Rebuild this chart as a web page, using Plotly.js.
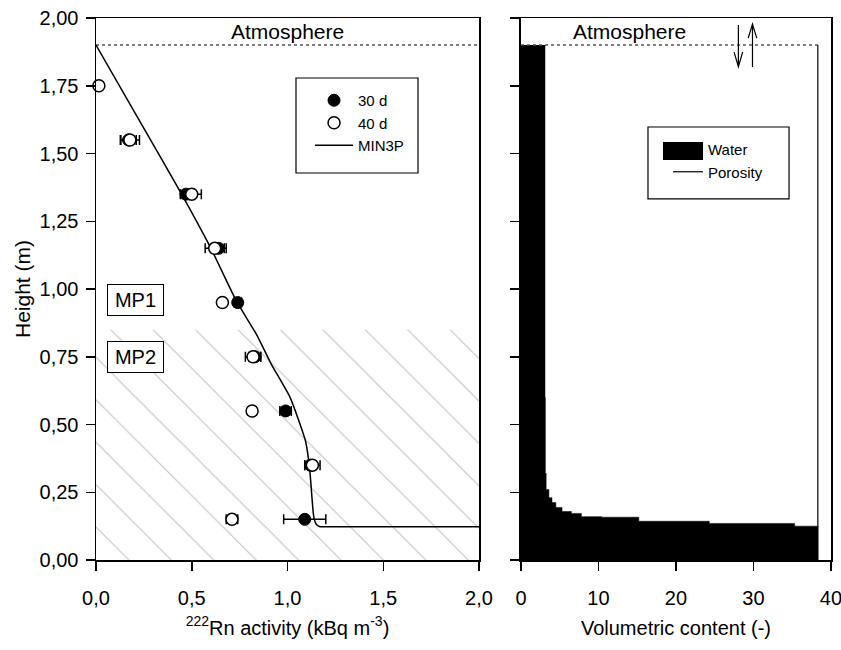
<!DOCTYPE html>
<html><head><meta charset="utf-8">
<script src="https://cdn.plot.ly/plotly-3.0.1.min.js"></script>
<style>html,body{margin:0;padding:0;background:#fff}</style>
</head><body><div id="chart" style="width:841px;height:650px"></div>
<script>
// Left panel: 222Rn activity profiles
const height30 = [1.55, 1.35, 1.15, 0.95, 0.75, 0.55, 0.35, 0.15];
const act30    = [0.17, 0.47, 0.64, 0.74, 0.83, 0.99, 1.12, 1.09];
const err30    = [0.04, 0.03, 0.04, 0.02, 0.03, 0.03, 0.03, 0.11];
const height40 = [1.75, 1.55, 1.35, 1.15, 0.95, 0.75, 0.55, 0.35, 0.15];
const act40    = [0.015, 0.177, 0.50, 0.62, 0.66, 0.82, 0.815, 1.13, 0.71];
const err40    = [0.01, 0.05, 0.05, 0.05, 0.015, 0.04, 0.02, 0.04, 0.03];
// MIN3P model curve
const modelAct    = [0, 0.22, 0.4375, 0.60, 0.733, 0.84, 0.915, 1.014, 1.094, 1.115, 1.135, 1.142, 1.152, 1.17, 1.25, 1.5, 2.0];
const modelHeight = [1.90, 1.63, 1.362, 1.15, 0.956, 0.83, 0.723, 0.599, 0.439, 0.341, 0.170, 0.145, 0.130, 0.123, 0.123, 0.123, 0.123];
const atmosphereHeight = 1.90;
const mp2Top = 0.85;
// Right panel: volumetric water content and porosity
const waterHeight  = [1.90, 0.60, 0.32, 0.26, 0.23, 0.212, 0.194, 0.179, 0.172, 0.16, 0.158, 0.143, 0.135, 0.125, 0];
const waterContent = [3.1, 3.15, 3.25, 3.6, 4.0, 4.5, 5.3, 6.5, 7.8, 10.4, 15.2, 24.3, 35.3, 38.3, 38.3];
const porosity = 38.3;

const FONT = 'Liberation Sans, Arial, sans-serif';

const traces = [
  { // MP2 hatched zone
    x: [0, 2, 2, 0, 0], y: [0, 0, mp2Top, mp2Top, 0], xaxis: 'x', yaxis: 'y',
    mode: 'lines', fill: 'toself', line: {width: 0, color: 'rgba(0,0,0,0)'},
    fillcolor: 'rgba(0,0,0,0)',
    fillpattern: {shape: '\\', size: 30, solidity: 0.04, fgcolor: '#8a8a8a', bgcolor: 'rgba(0,0,0,0)', fillmode: 'overlay'},
    showlegend: false, hoverinfo: 'skip'
  },
  { // atmosphere boundary left
    x: [0, 2], y: [atmosphereHeight, atmosphereHeight], xaxis: 'x', yaxis: 'y',
    mode: 'lines', line: {color: '#555', width: 1.5, dash: 'dot'}, showlegend: false, hoverinfo: 'skip'
  },
  {
    x: modelAct, y: modelHeight, xaxis: 'x', yaxis: 'y', name: 'MIN3P',
    mode: 'lines', line: {color: '#000', width: 1.5, shape: 'spline', smoothing: 0.5}, legend: 'legend', legendrank: 3
  },
  {
    x: act30, y: height30, xaxis: 'x', yaxis: 'y', name: '30 d', mode: 'markers',
    marker: {symbol: 'circle', size: 12, color: '#000', line: {color: '#000', width: 1}},
    error_x: {type: 'data', array: err30, visible: true, color: '#000', thickness: 1.5, width: 5},
    legend: 'legend', legendrank: 1, cliponaxis: false
  },
  {
    x: act40, y: height40, xaxis: 'x', yaxis: 'y', name: '40 d', mode: 'markers',
    marker: {symbol: 'circle', size: 12, color: '#fff', line: {color: '#000', width: 1.5}},
    error_x: {type: 'data', array: err40, visible: true, color: '#000', thickness: 1.5, width: 5},
    legend: 'legend', legendrank: 2, cliponaxis: false
  },
  {
    x: waterContent, y: waterHeight, xaxis: 'x2', yaxis: 'y2', name: 'Water',
    mode: 'lines', line: {color: '#000', width: 0.5, shape: 'vh'}, fill: 'tozerox', fillcolor: '#000',
    legend: 'legend2'
  },
  { // atmosphere boundary right
    x: [0, porosity], y: [atmosphereHeight, atmosphereHeight], xaxis: 'x2', yaxis: 'y2',
    mode: 'lines', line: {color: '#555', width: 1.5, dash: 'dot'}, showlegend: false, hoverinfo: 'skip'
  },
  {
    x: [porosity, porosity], y: [0, atmosphereHeight], xaxis: 'x2', yaxis: 'y2', name: 'Porosity',
    mode: 'lines', line: {color: '#000', width: 1.2}, legend: 'legend2'
  }
];

const axisCommon = {
  showline: true, linewidth: 1.5, linecolor: '#000', mirror: true,
  ticks: 'outside', ticklen: 9, tickwidth: 1.5, tickcolor: '#000',
  showgrid: false, zeroline: false, tickfont: {family: FONT, size: 20, color: '#000'}
};

const layout = {
  width: 841, height: 650,
  margin: {l: 96, r: 10, t: 18, b: 90},
  paper_bgcolor: '#fff', plot_bgcolor: '#fff',
  separators: ', ',
  font: {family: FONT, color: '#000'},
  xaxis: Object.assign({}, axisCommon, {
    domain: [0, 0.5211], range: [0, 2], tick0: 0, dtick: 0.5, tickformat: '.1f', anchor: 'y',
    ticklabelstandoff: 10,
    title: {text: '<sup>222</sup>Rn activity (kBq m<sup>-3</sup>)', font: {family: FONT, size: 20, color: '#000'}, standoff: 13}
  }),
  yaxis: Object.assign({}, axisCommon, {
    domain: [0, 1], range: [0, 2], tick0: 0, dtick: 0.25, tickformat: '.2f', anchor: 'x',
    ticklabelstandoff: 3,
    title: {text: 'Height (m)', font: {family: FONT, size: 21, color: '#000'}, standoff: 3}
  }),
  xaxis2: Object.assign({}, axisCommon, {
    domain: [0.5782, 1], range: [0, 40], tick0: 0, dtick: 10, tickformat: 'd', anchor: 'y2',
    ticklabelstandoff: 10, ticklabeloverflow: 'allow',
    title: {text: 'Volumetric content (-)', font: {family: FONT, size: 20, color: '#000'}, standoff: 13}
  }),
  yaxis2: Object.assign({}, axisCommon, {
    domain: [0, 1], range: [0, 2], tick0: 0, dtick: 0.25, anchor: 'x2', showticklabels: false
  }),
  legend: {
    x: 0.2912, y: 0.8782, xanchor: 'left', yanchor: 'top', itemwidth: 38,
    borderwidth: 0, bgcolor: 'rgba(0,0,0,0)',
    font: {family: FONT, size: 15, color: '#000'}, traceorder: 'normal', tracegroupgap: 0
  },
  legend2: {
    x: 0.7782, y: 0.7878, xanchor: 'left', yanchor: 'top', itemwidth: 30,
    borderwidth: 0, bgcolor: 'rgba(0,0,0,0)',
    font: {family: FONT, size: 15, color: '#000'}, traceorder: 'normal'
  },
  annotations: [
    {xref: 'x', yref: 'y', x: 1.0, y: 1.95, text: 'Atmosphere', showarrow: false,
     font: {family: FONT, size: 21, color: '#000'}},
    {xref: 'x2', yref: 'y2', x: 14.0, y: 1.95, text: 'Atmosphere', showarrow: false,
     font: {family: FONT, size: 21, color: '#000'}},
    {xref: 'x', yref: 'y', x: 0.205, y: 0.96, text: 'MP1', showarrow: false, width: 47, height: 22,
     bordercolor: '#000', borderwidth: 1, borderpad: 4, bgcolor: '#fff',
     font: {family: FONT, size: 20, color: '#000'}},
    {xref: 'x', yref: 'y', x: 0.205, y: 0.75, text: 'MP2', showarrow: false, width: 47, height: 22,
     bordercolor: '#000', borderwidth: 1, borderpad: 4, bgcolor: '#fff',
     font: {family: FONT, size: 20, color: '#000'}}
  ],
  shapes: [
    // legend frames
    {type: 'rect', xref: 'paper', yref: 'paper', x0: 0.2721, x1: 0.4381, y0: 0.7140, y1: 0.8893,
     line: {color: '#000', width: 1.2}, fillcolor: '#fff', layer: 'above'},
    {type: 'rect', xref: 'paper', yref: 'paper', x0: 0.7510, x1: 0.9429, y0: 0.6661, y1: 0.7989,
     line: {color: '#000', width: 1.2}, fillcolor: '#fff', layer: 'above'},
    // water swatch
    {type: 'rect', xref: 'paper', yref: 'paper', x0: 0.7714, x1: 0.8259, y0: 0.7380, y1: 0.7712,
     line: {width: 0}, fillcolor: '#000', layer: 'above'},
    // exchange arrows at the surface
    {type: 'path', xref: 'x2', yref: 'y2', line: {color: '#000', width: 1.2},
     path: 'M28.05,1.974 L28.05,1.820 M27.5,1.874 L28.05,1.820 L28.6,1.874'},
    {type: 'path', xref: 'x2', yref: 'y2', line: {color: '#000', width: 1.2},
     path: 'M29.87,1.819 L29.87,1.978 M29.32,1.926 L29.87,1.978 L30.42,1.926'}
  ]
};

Plotly.newPlot('chart', traces, layout, {displayModeBar: false, staticPlot: true});
</script>
</body></html>
